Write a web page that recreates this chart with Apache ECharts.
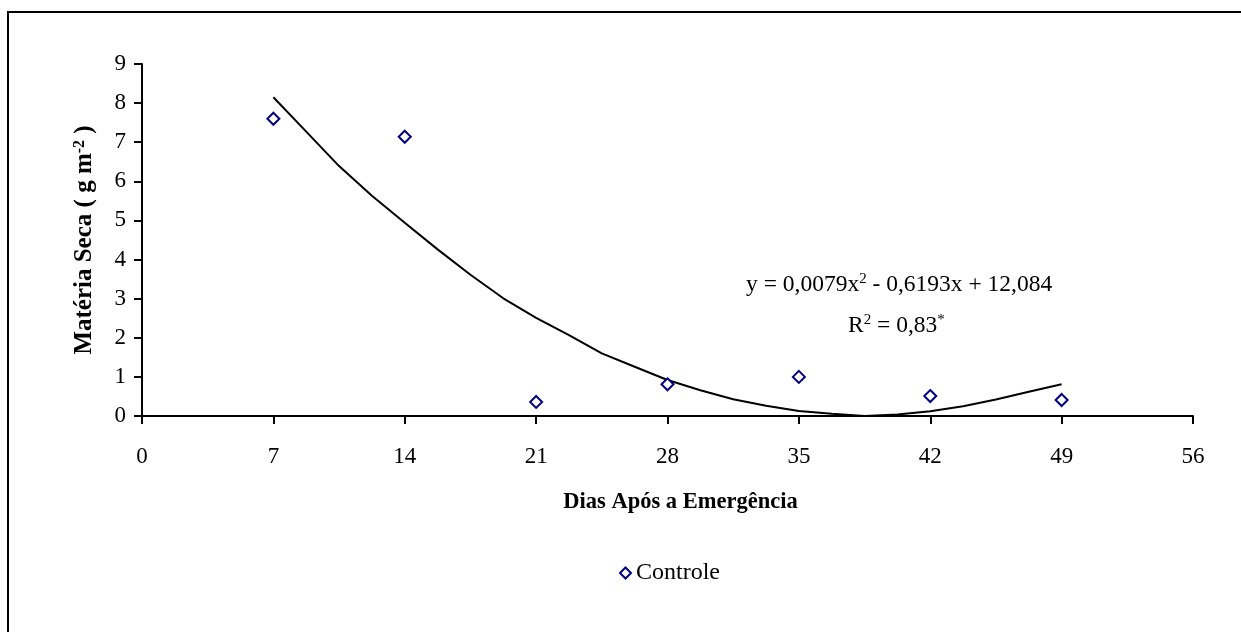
<!DOCTYPE html>
<html>
<head>
<meta charset="utf-8">
<script src="https://cdn.jsdelivr.net/npm/echarts@6/dist/echarts.min.js"></script>
<style>
html,body{margin:0;padding:0;background:#fff;}
#chart{width:1241px;height:632px;}
</style>
</head>
<body>
<div id="chart"></div>
<script>
// Observed data points (Dias Após a Emergência, Matéria Seca)
const days = [7, 14, 21, 28, 35, 42, 49];
const controle = [7.6, 7.14, 0.36, 0.81, 1.0, 0.51, 0.41];

// Trend line
const trendDays = [7, 8.75, 10.5, 12.25, 14, 15.75, 17.5, 19.25, 21, 22.75, 24.5, 26.25, 28, 29.75, 31.5, 33.25, 35, 36.75, 38.5, 40.25, 42, 43.75, 45.5, 47.25, 49];
const trendVals = [8.15, 7.27, 6.39, 5.63, 4.94, 4.26, 3.61, 3.01, 2.51, 2.07, 1.6, 1.26, 0.92, 0.66, 0.43, 0.26, 0.13, 0.06, 0.0, 0.04, 0.12, 0.25, 0.42, 0.62, 0.81];

const xTicks = [0, 7, 14, 21, 28, 35, 42, 49, 56];
const yTicks = [0, 1, 2, 3, 4, 5, 6, 7, 8, 9];

const seriesName = 'Controle';
const xTitle = 'Dias Após a Emergência';
const eqText = 'y = 0,0079x{s|2} - 0,6193x + 12,084';
const r2Text = 'R{s|2} = 0,83{s|*}';

const FONT = '"Liberation Serif", "Times New Roman", serif';

const chart = echarts.init(document.getElementById('chart'));
chart.setOption({
  animation: false,
  backgroundColor: '#fff',
  grid: {left: 142, right: 48, top: 64, bottom: 216},
  xAxis: {
    type: 'value', min: xTicks[0], max: xTicks[xTicks.length - 1], interval: 7,
    axisLine: {lineStyle: {color: '#000', width: 2}},
    axisTick: {show: true, length: 8, lineStyle: {color: '#000', width: 2}},
    axisLabel: {color: '#000', fontFamily: FONT, fontSize: 23, margin: 29},
    splitLine: {show: false},
    name: xTitle, nameLocation: 'middle', nameGap: 75,
    nameTextStyle: {color: '#000', fontFamily: FONT, fontSize: 22.5, fontWeight: 'bold', padding: [0, 0, 0, 26]}
  },
  yAxis: {
    type: 'value', min: yTicks[0], max: yTicks[yTicks.length - 1], interval: 1,
    axisLine: {show: true, lineStyle: {color: '#000', width: 2}},
    axisTick: {show: true, length: 8, lineStyle: {color: '#000', width: 2}},
    axisLabel: {color: '#000', fontFamily: FONT, fontSize: 23, margin: 16},
    splitLine: {show: false},
    name: 'Matéria Seca ( g m{s|-2} )', nameLocation: 'middle', nameGap: 44, nameRotate: 90,
    nameTextStyle: {
      color: '#000', fontFamily: FONT, fontSize: 25, fontWeight: 'bold',
      rich: {s: {fontFamily: FONT, fontSize: 16, fontWeight: 'bold', color: '#000', verticalAlign: 'top', padding: [0, 0, 10, 0]}}
    }
  },
  legend: {
    data: [seriesName], left: 614, top: 556,
    itemWidth: 11, itemHeight: 11, itemGap: 6,
    textStyle: {color: '#000', fontFamily: FONT, fontSize: 24}
  },
  graphic: [
    {type: 'polyline', silent: true, shape: {points: [[8, 632], [8, 12], [1241, 12]]},
     style: {stroke: '#000', lineWidth: 2, fill: null}},
    {type: 'text', left: 746, top: 272, silent: true,
     style: {text: eqText, fill: '#000', font: '23.5px ' + FONT,
       rich: {s: {fontSize: 15, fontFamily: FONT, fill: '#000', verticalAlign: 'top', padding: [0, 0, 10, 0]}}}},
    {type: 'text', left: 848, top: 313, silent: true,
     style: {text: r2Text, fill: '#000', font: '23.5px ' + FONT,
       rich: {s: {fontSize: 15, fontFamily: FONT, fill: '#000', verticalAlign: 'top', padding: [0, 0, 10, 0]}}}}
  ],
  series: [
    {
      name: 'Tendência', type: 'line', symbol: 'none', smooth: false,
      data: trendDays.map((d, i) => [d, trendVals[i]]),
      lineStyle: {color: '#000', width: 2}, z: 2
    },
    {
      name: seriesName, type: 'scatter', symbol: 'diamond', symbolSize: 12,
      data: days.map((d, i) => [d, controle[i]]),
      itemStyle: {color: '#fff', borderColor: '#000080', borderWidth: 2, opacity: 1}, z: 3
    }
  ]
});
</script>
</body>
</html>
